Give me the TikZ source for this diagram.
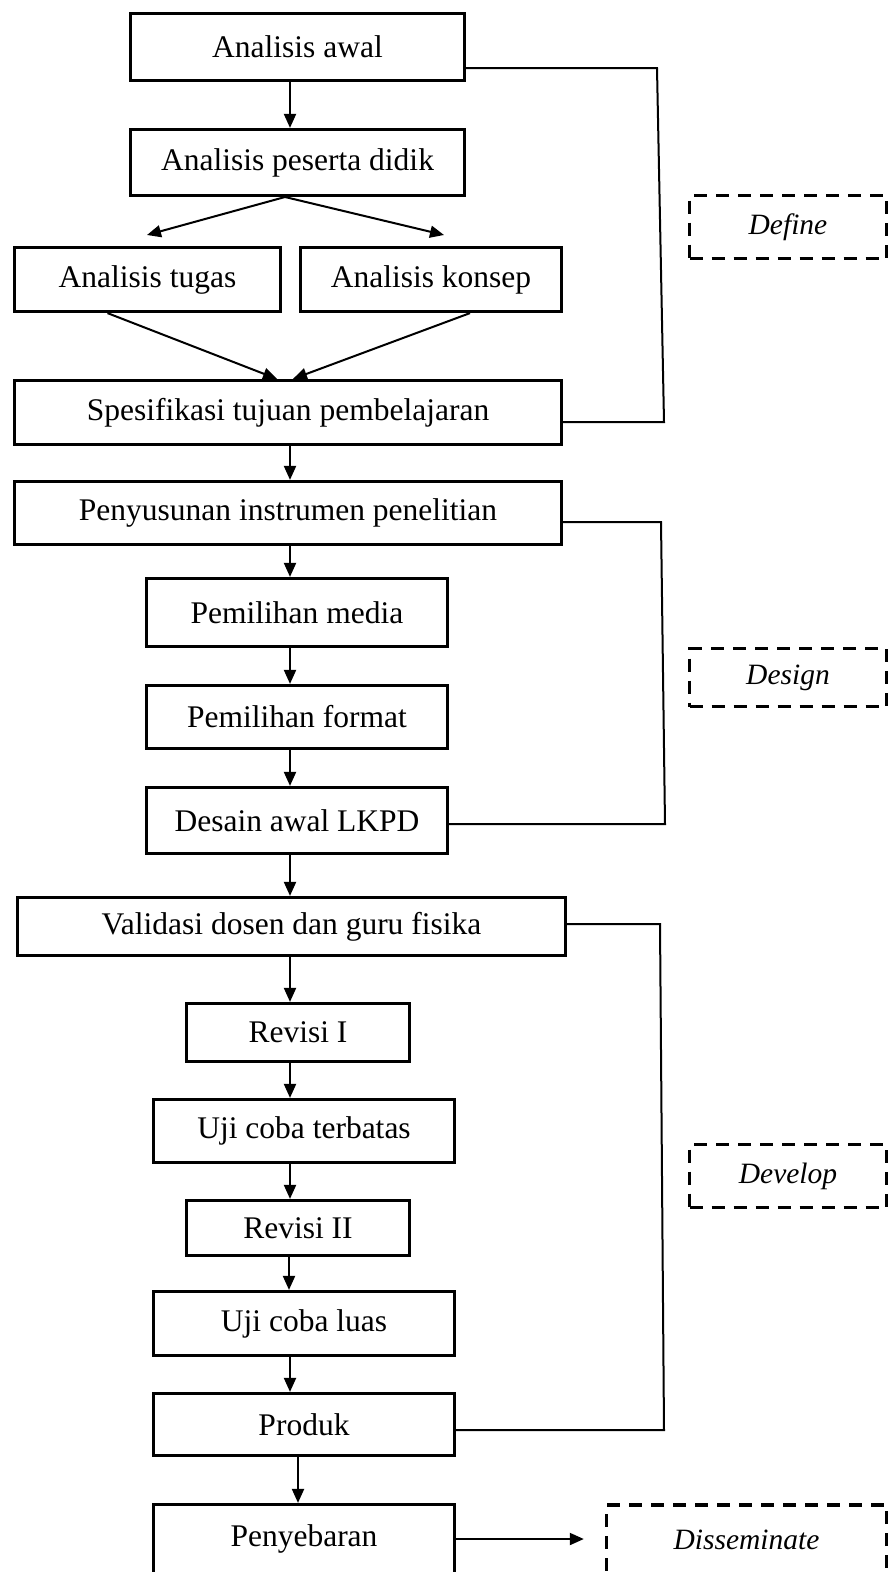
\documentclass[tikz,border=0pt]{standalone}
\usepackage{fontspec}
\setmainfont{Liberation Serif}
\usetikzlibrary{arrows.meta}
\begin{document}
\begin{tikzpicture}[x=1pt,y=-1pt,
 box/.style={draw,line width=3.2pt,rectangle,inner sep=0pt,font=\fontsize{31.5}{36}\selectfont},
 phase/.style={draw,line width=3.4pt,dash pattern=on 13pt off 9pt,rectangle,inner sep=0pt,font=\fontsize{29.5}{34}\selectfont\itshape},
 conn/.style={line width=2pt},
 arr/.style={conn,-{Triangle[length=14pt,width=12pt]}}]
\useasboundingbox (0,0) rectangle (891,1572);
\clip (0,0) rectangle (891,1572);
\fill[white] (0,0) rectangle (891,1572);

% main boxes
\node[box,minimum width=334pt,minimum height=67pt] (aa) at (297.5,47) {Analisis awal};
\node[box,minimum width=334pt,minimum height=66pt] (ap) at (297.5,162.5) {Analisis peserta didik};
\node[box,minimum width=266pt,minimum height=64pt] (at) at (147.5,279.5) {Analisis tugas};
\node[box,minimum width=261pt,minimum height=64pt] (ak) at (431,279.5) {Analisis konsep};
\node[box,minimum width=547pt,minimum height=64pt] (sp) at (288,412.5) {Spesifikasi tujuan pembelajaran};
\node[box,minimum width=547pt,minimum height=63pt] (pi) at (288,513) {Penyusunan instrumen penelitian};
\node[box,minimum width=301pt,minimum height=68pt] (pm) at (297,612.5) {Pemilihan media};
\node[box,minimum width=301pt,minimum height=63pt] (pf) at (297,717) {Pemilihan format};
\node[box,minimum width=301pt,minimum height=66pt] (da) at (297,820.5) {Desain awal LKPD};
\node[box,minimum width=548pt,minimum height=58pt] (vd) at (291.5,926.5) {Validasi dosen dan guru fisika};
\node[box,minimum width=223pt,minimum height=58pt] (r1) at (298,1032.5) {Revisi I};
\node[box,minimum width=301pt,minimum height=63pt] (ut) at (304,1131) {Uji coba terbatas};
\node[box,minimum width=223pt,minimum height=55pt] (r2) at (298,1228) {Revisi II};
\node[box,minimum width=301pt,minimum height=64pt] (ul) at (304,1323.5) {Uji coba luas};
\node[box,minimum width=301pt,minimum height=62pt] (pr) at (304,1424.5) {Produk};
\node[box,minimum width=301pt,minimum height=69pt] (pe) at (304,1539) {Penyebaran};

% phase boxes
\node[phase,minimum width=197pt,minimum height=63pt] (df) at (788,227) {Define};
\node[phase,minimum width=197pt,minimum height=58pt] (dg) at (788,677.5) {Design};
\node[phase,minimum width=197pt,minimum height=63pt] (dv) at (788,1176) {Develop};
\node[phase,minimum width=280pt,minimum height=69pt] (ds) at (746.5,1539.5) {Disseminate};

% vertical flow arrows
\coordinate (cx) at (290,0);
\coordinate (cy) at (289,0);
\coordinate (cz) at (298,0);
\draw[arr] (aa.south -| cx) -- (ap.north -| cx);
\coordinate (ps) at (285,197);
\coordinate (tl) at (147,235);
\coordinate (tr) at (444,235);
\draw[arr] (ps) -- (tl);
\draw[arr] (ps) -- (tr);
\draw[arr] ([xshift=-40pt]at.south) -- ([xshift=-11pt]sp.north);
\draw[arr] ([xshift=39pt]ak.south) -- ([xshift=5pt]sp.north);
\draw[arr] (sp.south -| cx) -- (pi.north -| cx);
\draw[arr] (pi.south -| cx) -- (pm.north -| cx);
\draw[arr] (pm.south -| cx) -- (pf.north -| cx);
\draw[arr] (pf.south -| cx) -- (da.north -| cx);
\draw[arr] (da.south -| cx) -- (vd.north -| cx);
\draw[arr] (vd.south -| cx) -- (r1.north -| cx);
\draw[arr] (r1.south -| cx) -- (ut.north -| cx);
\draw[arr] (ut.south -| cx) -- (r2.north -| cx);
\draw[arr] (r2.south -| cy) -- (ul.north -| cy);
\draw[arr] (ul.south -| cx) -- (pr.north -| cx);
\draw[arr] (pr.south -| cz) -- (pe.north -| cz);

% phase brackets
\coordinate (b1) at (657,68);
\coordinate (b2) at (664,422);
\draw[conn] (aa.east |- b1) -- (b1) -- (b2) -- (sp.east |- b2);
\coordinate (c1) at (661,522);
\coordinate (c2) at (665,824);
\draw[conn] (pi.east |- c1) -- (c1) -- (c2) -- (da.east |- c2);
\coordinate (d1) at (660,924);
\coordinate (d2) at (664,1430);
\draw[conn] (vd.east |- d1) -- (d1) -- (d2) -- (pr.east |- d2);

% disseminate arrow
\draw[arr] (pe.east) -- ([xshift=-21pt]ds.west |- pe.east);
\end{tikzpicture}
\end{document}
